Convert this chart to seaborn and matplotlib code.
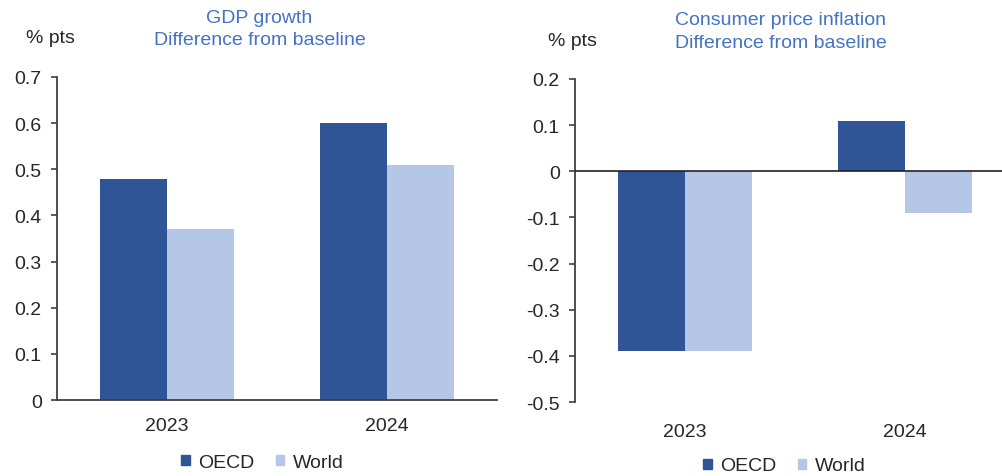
import pandas as pd
import matplotlib
matplotlib.use('Agg')
import matplotlib.pyplot as plt
import seaborn as sns
from matplotlib.patches import Patch

# data
years = ['2023', '2024']
regions = ['OECD', 'World']
gdp_oecd = [0.48, 0.60]
gdp_world = [0.37, 0.51]
cpi_oecd = [-0.39, 0.11]
cpi_world = [-0.39, -0.09]

dark = '#2F5597'
light = '#B4C7E7'
title_col = '#4472C4'
txt = '#262626'
fs = 14

sns.set_theme(style='white')
plt.rcParams['font.family'] = ['Liberation Sans', 'DejaVu Sans']

def long_df(oecd, world):
    rows = []
    for i, y in enumerate(years):
        rows.append({'year': y, 'region': 'OECD', 'value': oecd[i]})
        rows.append({'year': y, 'region': 'World', 'value': world[i]})
    return pd.DataFrame(rows)

gdp = long_df(gdp_oecd, gdp_world)
cpi = long_df(cpi_oecd, cpi_world)

fig = plt.figure(figsize=(10.02, 4.77), dpi=100)
ax1 = fig.add_axes([0.0569, 0.1593, 0.439, 0.6772])
ax2 = fig.add_axes([0.5739, 0.1551, 0.439, 0.6772])

for ax, df in [(ax1, gdp), (ax2, cpi)]:
    sns.barplot(data=df, x='year', y='value', hue='region', hue_order=regions,
                palette=[dark, light], width=0.61, saturation=1, linewidth=0,
                errorbar=None, ax=ax, legend=False)
    ax.set_xlim(-0.5, 1.5)
    ax.set_xlabel('')
    ax.set_ylabel('')
    for s in ['top', 'right']:
        ax.spines[s].set_visible(False)
    ax.spines['left'].set_color('#404040')
    ax.spines['left'].set_linewidth(1.3)
    ax.tick_params(axis='y', which='both', left=True, length=4, width=1.2,
                   color='#404040', labelsize=fs, labelcolor=txt, pad=7)
    ax.tick_params(axis='x', bottom=False, labelsize=fs, labelcolor=txt)
    ax.yaxis.set_major_formatter(matplotlib.ticker.FuncFormatter(
        lambda v, p: '0' if abs(v) < 1e-9 else ('%.1f' % v)))

ax1.set_ylim(0, 0.7)
ax1.set_yticks([0, 0.1, 0.2, 0.3, 0.4, 0.5, 0.6, 0.7])
ax1.spines['bottom'].set_color('#404040')
ax1.spines['bottom'].set_linewidth(1.3)
ax1.tick_params(axis='x', pad=6)

ax2.set_ylim(-0.5, 0.2)
ax2.set_yticks([-0.5, -0.4, -0.3, -0.2, -0.1, 0, 0.1, 0.2])
ax2.spines['bottom'].set_visible(False)
ax2.axhline(0, color='#222222', lw=1.2, zorder=3)
ax2.tick_params(axis='x', pad=9)

# titles and unit labels
fig.text(0.259, 0.962, 'GDP growth', ha='center', va='center', color=title_col, fontsize=fs)
fig.text(0.259, 0.916, 'Difference from baseline', ha='center', va='center', color=title_col, fontsize=fs)
fig.text(0.05, 0.92, '% pts', ha='center', va='center', color=txt, fontsize=fs)
fig.text(0.779, 0.956, 'Consumer price inflation', ha='center', va='center', color=title_col, fontsize=fs)
fig.text(0.779, 0.908, 'Difference from baseline', ha='center', va='center', color=title_col, fontsize=fs)
fig.text(0.571, 0.912, '% pts', ha='center', va='center', color=txt, fontsize=fs)

# legends
handles = [Patch(color=dark, label='OECD'), Patch(color=light, label='World')]
for x, y in [(0.262, 0.029), (0.783, 0.021)]:
    fig.legend(handles=handles, loc='center', bbox_to_anchor=(x, y), ncol=2,
               frameon=False, fontsize=fs, handlelength=0.42, handleheight=0.42,
               handletextpad=0.45, columnspacing=1.1, labelcolor=txt)

fig.savefig('out.png', dpi=100)
